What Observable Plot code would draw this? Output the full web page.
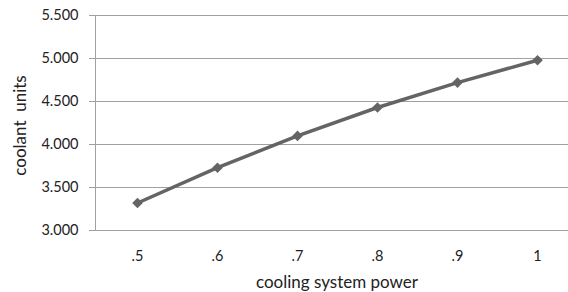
<!DOCTYPE html>
<html>
<head>
<meta charset="utf-8">
<script src="https://cdn.jsdelivr.net/npm/d3@7"></script>
<script src="https://cdn.jsdelivr.net/npm/@observablehq/plot@0.6"></script>
<style>
  html, body { margin: 0; padding: 0; background: #fff; overflow: hidden; }
  svg { font-family: Lato, "Open Sans", sans-serif; }
</style>
</head>
<body>
<div id="chart"></div>
<script>
const categories = [".5", ".6", ".7", ".8", ".9", "1"];
const values = [3.32, 3.73, 4.10, 4.43, 4.72, 4.98];
const yTicks = [3.0, 3.5, 4.0, 4.5, 5.0, 5.5];
const xTitle = "cooling system power";
const yTitle = "coolant\u00a0 units";

const data = categories.map((c, i) => ({cat: c, val: values[i]}));

const chart = Plot.plot({
  width: 568,
  height: 292,
  marginTop: 15,
  marginBottom: 62,
  marginLeft: 95,
  marginRight: 0,
  style: {fontFamily: "Lato, 'Open Sans', sans-serif", fontSize: "14.5px", color: "#222", background: "#fff"},
  x: {type: "point", domain: categories, range: [135, 538], padding: 0, label: null},
  y: {domain: [3, 5.5], label: null},
  marks: [
    Plot.gridY(yTicks, {stroke: "#a0a0a0", strokeOpacity: 1, strokeWidth: 1}),
    Plot.frame({anchor: "left", stroke: "#a0a0a0"}),
    Plot.axisY(yTicks, {tickFormat: d3.format(".3f"), tickSize: 6, tickPadding: 11, stroke: "#a0a0a0", label: null, fontSize: 14.5}),
    Plot.axisX({tickSize: 0, tickPadding: 20, label: null, fontSize: 14.5}),
    Plot.text([xTitle], {frameAnchor: "bottom", text: d => d, dx: 5, dy: 52, lineAnchor: "middle", textAnchor: "middle", fontSize: 17, fill: "#222"}),
    Plot.text([yTitle], {frameAnchor: "left", text: d => d, rotate: -90, dx: -75, dy: 2.5, lineAnchor: "middle", textAnchor: "middle", fontSize: 17, fill: "#222"}),
    Plot.line(data, {x: "cat", y: "val", stroke: "#646464", strokeWidth: 3.5}),
    Plot.dot(data, {x: "cat", y: "val", symbol: "diamond2", r: 4.8, fill: "#646464", stroke: "none"})
  ]
});
document.getElementById("chart").appendChild(chart);
</script>
</body>
</html>
